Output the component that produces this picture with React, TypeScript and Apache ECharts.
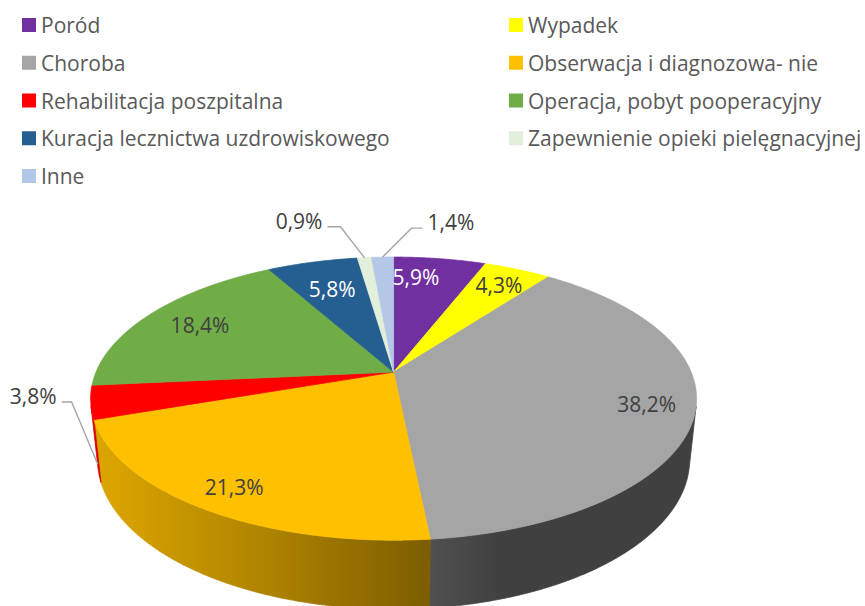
import React, { useEffect, useRef } from "react";
import * as echarts from "echarts";

// ---- data ----
const categories = [
  "Poród",
  "Wypadek",
  "Choroba",
  "Obserwacja i diagnozowa- nie",
  "Rehabilitacja poszpitalna",
  "Operacja, pobyt pooperacyjny",
  "Kuracja lecznictwa uzdrowiskowego",
  "Zapewnienie opieki pielęgnacyjnej",
  "Inne",
];
const values = [5.9, 4.3, 38.2, 21.3, 3.8, 18.4, 5.8, 0.9, 1.4];
const colors = [
  "#7030A0",
  "#FFFF00",
  "#A5A5A5",
  "#FFC000",
  "#FF0000",
  "#70AD47",
  "#255E91",
  "#E2EFDA",
  "#B4C7E7",
];
const legendLeftIdx = [0, 2, 4, 6, 8];
const legendRightIdx = [1, 3, 5, 7];

// ---- label layout (relative to each slice) ----
type LabelCfg = {
  frac?: number;
  rho?: number;
  color?: string;
  outside?: boolean;
  base?: "top" | "bottom";
  dx?: number;
  dy?: number;
  hx?: number;
};
const labelLayout: LabelCfg[] = [
  { frac: 0.29, rho: 0.805, color: "#FFFFFF" },
  { frac: 0.5, rho: 0.83 },
  { frac: 0.5, rho: 0.845 },
  { frac: 0.5, rho: 0.86 },
  { outside: true, base: "bottom", dx: -26, dy: -62, hx: -10 },
  { frac: 0.5, rho: 0.785 },
  { frac: 0.5, rho: 0.726, color: "#FFFFFF" },
  { outside: true, base: "top", dx: -24, dy: -31, hx: -13 },
  { outside: true, base: "top", dx: 29, dy: -29, hx: 11 },
];

// ---- 3D pie geometry ----
const DEG = Math.PI / 180;
const ALPHA = 27.32 * DEG; // elevation of view
const RD = 0.211; // radius / camera distance
const HD = 0.049; // thickness / camera distance
const VIS = Math.acos(-RD / Math.cos(ALPHA)); // start of visible side wall
const FONT = "'Open Sans', 'DejaVu Sans', sans-serif";

const fmt = (v: number) => v.toFixed(1).replace(".", ",") + "%";

function hexToRgb(h: string) {
  const n = parseInt(h.slice(1), 16);
  return [(n >> 16) & 255, (n >> 8) & 255, n & 255];
}
function shadeColor(h: string, f: number) {
  const [r, g, b] = hexToRgb(h);
  const c = (x: number) => Math.max(0, Math.min(255, Math.round(x * f)));
  return `rgb(${c(r)},${c(g)},${c(b)})`;
}
function shadeFactor(t: number) {
  const d = -0.954 * Math.sin(t) - 0.301 * Math.cos(t);
  return 0.39 + 0.47 * Math.max(0, d);
}

function makeRender(i: number) {
  return (params: any, api: any) => {
    const width = api.getWidth();
    const height = api.getHeight();
    const cx = width * 0.455;
    const cy = height * 0.614;
    const F = width * 1.6305;
    const total = values.reduce((a, b) => a + b, 0);
    let before = 0;
    for (let j = 0; j < i; j++) before += values[j];
    const v = api.value(0);
    const t0 = (before / total) * 2 * Math.PI;
    const t1 = ((before + v) / total) * 2 * Math.PI;

    const proj = (t: number, rho: number, y: number) => {
      const X = RD * rho * Math.sin(t);
      const Z = RD * rho * Math.cos(t);
      const depth = 1 + Z * Math.cos(ALPHA) - y * Math.sin(ALPHA);
      const yc = y * Math.cos(ALPHA) + Z * Math.sin(ALPHA);
      return [cx + (F * X) / depth, cy - (F * yc) / depth];
    };

    const children: any[] = [];
    const color = colors[i];

    // side wall (visible front part only)
    const a = Math.max(t0, VIS);
    const b = Math.min(t1, 2 * Math.PI - VIS);
    if (b > a) {
      const n = Math.max(2, Math.ceil((b - a) / (0.25 * DEG)));
      const top: number[][] = [];
      const bot: number[][] = [];
      for (let j = 0; j <= n; j++) {
        const t = a + ((b - a) * j) / n;
        top.push(proj(t, 1, 0));
        bot.push(proj(t, 1, -HD));
      }
      const pts = top.concat(bot.slice().reverse());
      const xs = pts.map((p) => p[0]);
      const xmin = Math.min(...xs);
      const xmax = Math.max(...xs);
      const span = Math.max(1e-6, xmax - xmin);
      const stops: { offset: number; color: string }[] = [];
      const m = 12;
      for (let j = 0; j <= m; j++) {
        const t = a + ((b - a) * j) / m;
        const x = proj(t, 1, -HD / 2)[0];
        stops.push({
          offset: Math.max(0, Math.min(1, (x - xmin) / span)),
          color: shadeColor(color, shadeFactor(t)),
        });
      }
      stops.sort((p, q) => p.offset - q.offset);
      const grad = () =>
        new echarts.graphic.LinearGradient(xmin, 0, xmax, 0, stops, true);
      children.push({
        type: "polygon",
        z2: 1,
        shape: { points: pts },
        style: { fill: grad(), stroke: grad(), lineWidth: 0.8 },
      });
    }

    // top face
    const nTop = Math.max(2, Math.ceil((t1 - t0) / (0.25 * DEG)));
    const facePts: number[][] = [proj(0, 0, 0)];
    for (let j = 0; j <= nTop; j++) {
      facePts.push(proj(t0 + ((t1 - t0) * j) / nTop, 1, 0));
    }
    children.push({
      type: "polygon",
      z2: 2,
      shape: { points: facePts },
      style: { fill: color, stroke: color, lineWidth: 0.8, lineJoin: "round" },
    });

    // label
    const cfg = labelLayout[i];
    const text = fmt(v);
    if (cfg.outside) {
      const tm = (t0 + t1) / 2;
      const anchor = cfg.base === "bottom" ? proj(tm, 1, -HD) : proj(tm, 1, 0);
      const elbow = [anchor[0] + (cfg.dx || 0), anchor[1] + (cfg.dy || 0)];
      const end = [elbow[0] + (cfg.hx || 0), elbow[1]];
      const dir = (cfg.hx || 0) < 0 ? -1 : 1;
      children.push({
        type: "polyline",
        z2: 9,
        shape: { points: [anchor, elbow, end] },
        style: { stroke: "#A6A6A6", lineWidth: 1.4, fill: null },
      });
      children.push({
        type: "text",
        z2: 10,
        x: end[0] + dir * 5,
        y: end[1] - 6,
        style: {
          text,
          fill: cfg.color || "#404040",
          fontSize: 21,
          fontFamily: FONT,
          align: dir < 0 ? "right" : "left",
          verticalAlign: "middle",
        },
      });
    } else {
      const t = t0 + (t1 - t0) * (cfg.frac ?? 0.5);
      const p = proj(t, cfg.rho ?? 0.8, 0);
      children.push({
        type: "text",
        z2: 10,
        x: p[0],
        y: p[1],
        style: {
          text,
          fill: cfg.color || "#404040",
          fontSize: 21,
          fontFamily: FONT,
          align: "center",
          verticalAlign: "middle",
        },
      });
    }

    return { type: "group", children };
  };
}

export default function App() {
  const ref = useRef<HTMLDivElement>(null);
  useEffect(() => {
    if (!ref.current) return;
    const chart = echarts.init(ref.current, undefined, { renderer: "svg" });
    const legendBase = {
      orient: "vertical",
      top: 13,
      padding: 0,
      itemWidth: 14,
      itemHeight: 14,
      itemGap: 13.75,
      icon: "rect",
      selectedMode: false,
      textStyle: {
        fontFamily: FONT,
        fontSize: 21,
        color: "#595959",
        lineHeight: 24,
      },
    };
    chart.setOption({
      animation: false,
      backgroundColor: "#FFFFFF",
      color: colors,
      legend: [
        { ...legendBase, left: 22, data: legendLeftIdx.map((i) => categories[i]) },
        { ...legendBase, left: 509, data: legendRightIdx.map((i) => categories[i]) },
      ],
      series: categories.map((name, i) => ({
        type: "custom",
        name,
        coordinateSystem: "none",
        silent: true,
        itemStyle: { color: colors[i] },
        renderItem: makeRender(i),
        data: [[values[i]]],
      })),
    });
    return () => chart.dispose();
  }, []);
  return (
    <div
      ref={ref}
      style={{ position: "absolute", left: 0, top: 0, width: 865, height: 606 }}
    />
  );
}
